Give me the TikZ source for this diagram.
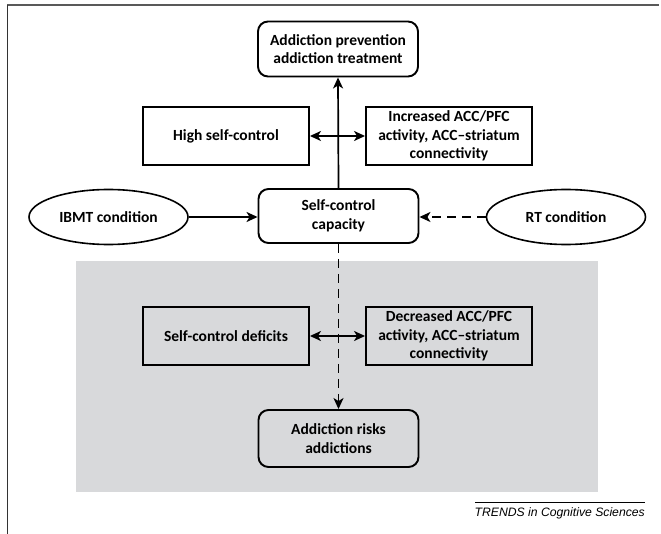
\documentclass[tikz,border=0pt]{standalone}
\usepackage{fontspec}
\setmainfont{Carlito}
\newfontfamily\trendsfont{Liberation Sans}
\usetikzlibrary{shapes.geometric,arrows.meta}
\definecolor{panelgray}{RGB}{216,217,219}
\begin{document}
\begin{tikzpicture}[x=1pt,y=-1pt,
  every node/.style={font=\fontsize{15.5}{18.5}\selectfont\bfseries, align=center, inner sep=1pt},
  rbox/.style={draw, line width=1.9pt, rounded corners=10pt, minimum width=160pt, minimum height=55pt},
  sbox/.style={draw, line width=1.9pt, minimum width=166pt, minimum height=58pt},
  ebox/.style={draw, line width=1.6pt, ellipse, minimum width=159pt, minimum height=55pt},
  arr/.style={line width=1.7pt, -{Stealth[length=11pt,width=10pt,inset=3pt]}},
  darr/.style={line width=1.7pt, {Stealth[length=11pt,width=10pt,inset=3pt]}-{Stealth[length=11pt,width=10pt,inset=3pt]}},
  dsh/.style={dash pattern=on 9pt off 6pt}
]
\useasboundingbox (0,0) rectangle (661,534);
% frame
\draw[black!65, line width=1.5pt] (7,5) -- (659,5);
\draw[black!80, line width=1pt] (7,5) -- (7,534);
% gray panel
\fill[panelgray] (76,261) rectangle (598,492);
% nodes
\node[rbox] (top) at (338,49) {Addiction prevention\\addiction treatment};
\node[sbox] (hsc) at (226,136) {High self-control};
\node[sbox] (inc) at (449,136) {Increased ACC/PFC\\activity, ACC--striatum\\connectivity};
\node[rbox, minimum height=54pt] (scc) at (338.5,216) {Self-control\\capacity};
\node[ebox] (ibmt) at (108.5,217) {IBMT condition};
\node[ebox] (rt) at (566,217) {RT condition};
\node[sbox] (def) at (226,336) {Self-control deficits};
\node[sbox] (dec) at (449,336) {Decreased ACC/PFC\\activity, ACC--striatum\\connectivity};
\node[rbox, minimum height=57pt] (risk) at (338.5,438.5) {Addiction risks\\addictions};
% connectors
\draw[arr] (scc.north) -- (top.south);
\draw[darr] (hsc.east) -- (inc.west);
\draw[arr] (ibmt.east) -- (scc.west |- ibmt.east);
\draw[arr, dsh] (rt.west) -- (scc.east |- rt.west);
\draw[arr, dsh] (scc.south) -- (risk.north);
\draw[darr] (def.east) -- (dec.west);
% credit
\coordinate (cl) at (475,502);
\coordinate (cr) at (645,502);
\draw[line width=0.6pt] (cl) -- (cr);
\node[font=\trendsfont\itshape\fontsize{12.2}{14}\selectfont, anchor=north east, inner sep=0pt] (credit) at (645,507) {TRENDS in Cognitive Sciences};
\end{tikzpicture}
\end{document}
